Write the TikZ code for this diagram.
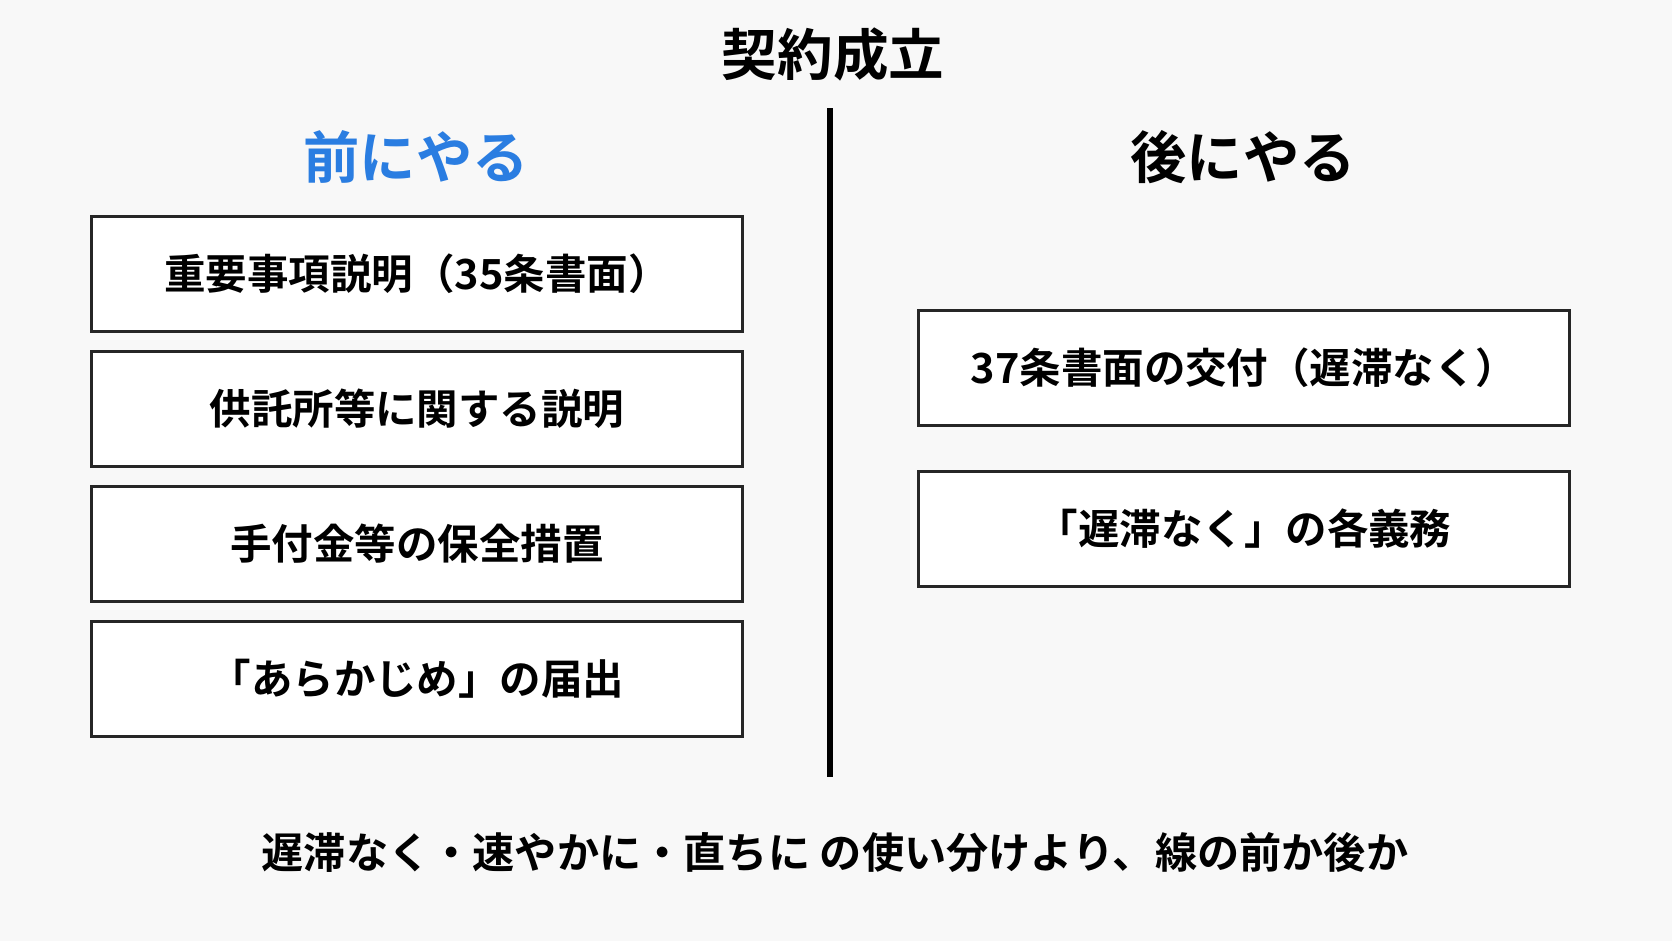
\documentclass[tikz,border=0pt]{standalone}
\usepackage{fontspec}
\newfontfamily\cjk{Noto Sans CJK JP}[BoldFont={Noto Sans CJK JP Bold}]
\usetikzlibrary{positioning}
\definecolor{frontBlue}{HTML}{2A7DE1}
\definecolor{paper}{HTML}{F8F8F8}

\begin{document}
\begin{tikzpicture}[x=0.01cm, y=-0.01cm, font=\cjk\bfseries]

% styles
\tikzstyle{titleText}=[text=black, font=\cjk\bfseries\fontsize{15.8}{17}\selectfont]
\tikzstyle{headText}=[text=black, font=\cjk\bfseries\fontsize{16}{18}\selectfont]
\tikzstyle{itemBox}=[rectangle, draw=black!85, line width=0.8pt, fill=white, minimum width=6.5cm, minimum height=1.15cm, inner sep=0pt, font=\cjk\bfseries\fontsize{11.8}{13}\selectfont]
\tikzstyle{noteText}=[text=black, font=\cjk\bfseries\fontsize{12}{13}\selectfont]

\fill[paper] (0,0) rectangle (1672,941);
\useasboundingbox (0,0) rectangle (1672,941);

% title and divider
\node[titleText] (title) at (833,54) {契約成立};
\coordinate (divTop) at (830,108);
\coordinate (divBot) at (830,777);
\draw[line width=1.7pt] (divTop) -- (divBot);

% before
\node[headText, text=frontBlue] (before) at (416,157) {前にやる};
\node[itemBox] (b1) at (417,274) {重要事項説明（35条書面）};
\node[itemBox] (b2) at (417,409) {供託所等に関する説明};
\node[itemBox] (b3) at (417,544) {手付金等の保全措置};
\node[itemBox] (b4) at (417,679) {「あらかじめ」の届出};

% after
\node[headText] (after) at (1243,157) {後にやる};
\node[itemBox] (a1) at (1244,368) {37条書面の交付（遅滞なく）};
\node[itemBox] (a2) at (1244,529) {「遅滞なく」の各義務};

% note
\node[noteText] (note) at (835,852) {遅滞なく・速やかに・直ちに の使い分けより、線の前か後か};

\end{tikzpicture}
\end{document}
